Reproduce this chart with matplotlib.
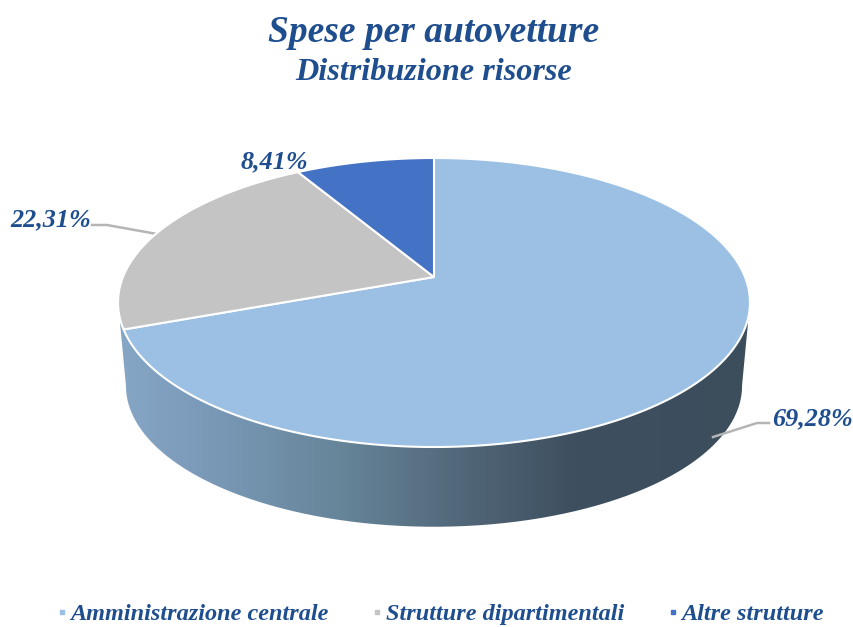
"""Torta 3D "Spese per autovetture" : proiezione prospettica del disco."""
import numpy as np
import matplotlib

matplotlib.use("Agg")
import matplotlib.pyplot as plt
from matplotlib.colors import LinearSegmentedColormap
from matplotlib.lines import Line2D
from matplotlib.patches import PathPatch, Polygon
from matplotlib.path import Path

categories = ["Amministrazione centrale", "Strutture dipartimentali", "Altre strutture"]
shares = [69.28, 22.31, 8.41]
share_labels = ["69,28%", "22,31%", "8,41%"]
slice_colors = ["#9BC0E3", "#C4C4C4", "#4472C4"]
title_main = "Spese per autovetture"
title_sub = "Distribuzione risorse"

TEXT = "#1F4E8F"
CX, CY = 434.0, 277.0

plt.rcParams["font.family"] = ["Liberation Serif", "DejaVu Serif"]


def project(turn, scale=1.0, dy=0.0):
    """Angle en fraction de tour (sens horaire depuis le haut) -> pixels."""
    th = 2 * np.pi * np.asarray(turn)
    x3, y3 = np.sin(th), np.cos(th)
    w = 1 + 0.1765 * y3
    return np.column_stack([CX + scale * 311 * x3 / w,
                            CY + dy - scale * 140 * y3 / w])


fig = plt.figure(figsize=(8.54, 6.27), dpi=100)
ax = fig.add_axes([0, 0, 1, 1])
ax.set_xlim(0, 854)
ax.set_ylim(627, 0)
ax.axis("off")

# Bord du disque : degrade clippe sur le contour visible.
t = np.linspace(0, 1, 721)
top = project(t)
bottom = project(t, scale=0.975, dy=84)
right = int(np.argmax(top[:, 0]))
left = int(np.argmin(top[:, 0]))
outline = np.vstack([top[right:left + 1], bottom[right:left + 1][::-1]])
side_map = LinearSegmentedColormap.from_list(
    "side", [(0, "#86A6C6"), (0.12, "#7C9BBA"), (0.35, "#668599"),
             (0.6, "#4B5F70"), (0.72, "#3E5060"), (1, "#3C4E5C")])
img = ax.imshow(np.linspace(0, 1, 256)[None, :], cmap=side_map, aspect="auto",
                extent=[120, 750, 530, 320], zorder=1)
img.set_clip_path(PathPatch(Path(outline), transform=ax.transData))
ax.set_xlim(0, 854)
ax.set_ylim(627, 0)

# Face superieure : une part par valeur.
start = 0.0
for share, color in zip(shares, slice_colors):
    stop = start + share / sum(shares)
    arc = project(np.linspace(start, stop, 300))
    ax.add_patch(Polygon(np.vstack([[CX, CY], arc]), closed=True, facecolor=color,
                         edgecolor="white", lw=1.5, joinstyle="round", zorder=2))
    start = stop

# Etiquettes et lignes de rappel.
ax.plot([713, 757, 769], [437, 423, 423], color="#B5B5B5", lw=1.8, zorder=1.5)
ax.plot([92, 107, 157], [225, 225, 234], color="#B5B5B5", lw=1.8, zorder=1.5)
for label, x, y in zip(share_labels, [812, 51, 274], [419, 220, 162]):
    ax.text(x, y, label, color=TEXT, fontsize=18.8, style="italic", weight="bold",
            ha="center", va="center", zorder=3)

ax.text(434, 33, title_main, color=TEXT, fontsize=27, style="italic", weight="bold",
        ha="center", va="center")
ax.text(434, 73, title_sub, color=TEXT, fontsize=23.2, style="italic", weight="bold",
        ha="center", va="center")

handles = [Line2D([], [], ls="", marker="s", ms=3.5, color=c) for c in slice_colors]
leg = ax.legend(handles, categories, loc="center", bbox_to_anchor=(441 / 854, 1 - 614 / 627),
                ncols=3, frameon=False, columnspacing=1.85, handletextpad=0.2,
                handlelength=0.3, borderpad=0, borderaxespad=0,
                prop={"family": "Liberation Serif", "style": "italic", "weight": "bold", "size": 17.5})
for text in leg.get_texts():
    text.set_color(TEXT)

fig.savefig("out.png", dpi=100)
plt.close(fig)
